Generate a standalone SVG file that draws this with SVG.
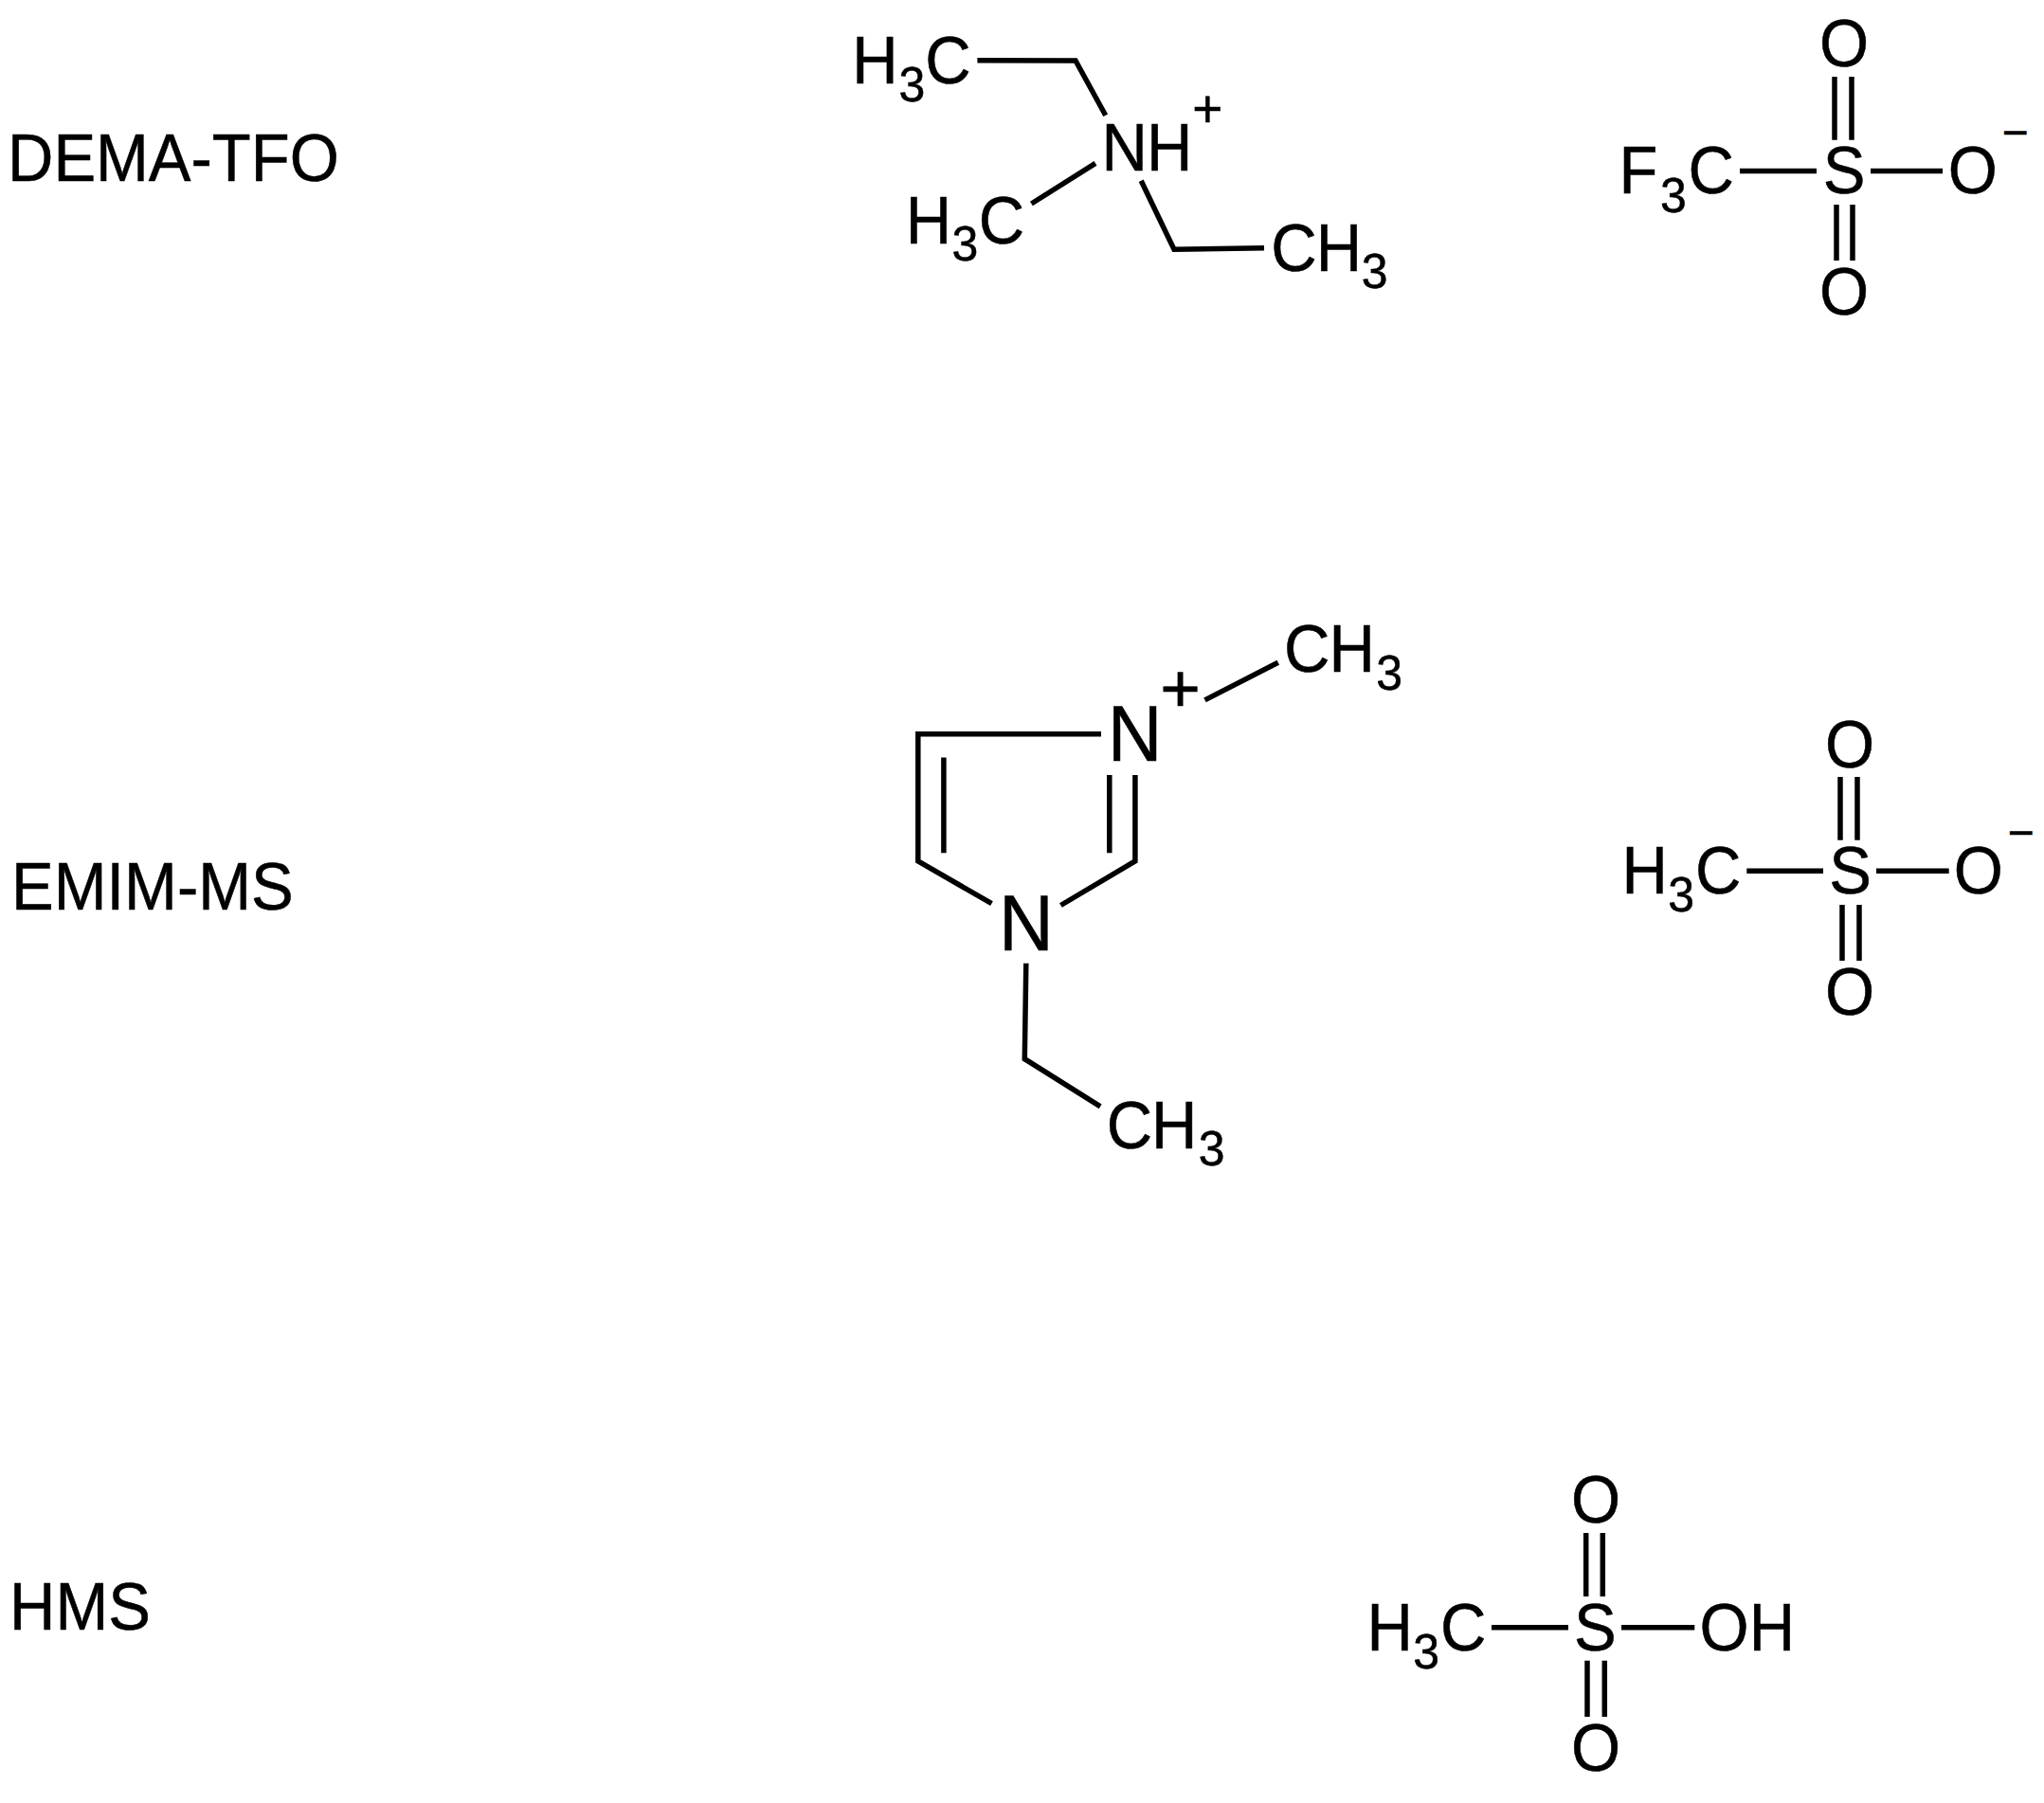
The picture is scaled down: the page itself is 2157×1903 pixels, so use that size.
<svg xmlns="http://www.w3.org/2000/svg" width="2157" height="1903" viewBox="0 0 2157 1903">
<style>
text{font-family:"Liberation Sans",Arial,sans-serif;fill:#000;stroke:#000;stroke-width:.5}
.a{font-size:67px}.s{font-size:50px}.n{font-size:80px}
.p{font-size:55px;text-anchor:middle}.q{font-size:73px;text-anchor:middle}.m{font-size:48px;text-anchor:middle}
#bonds path{fill:none;stroke:#000;stroke-width:5.5;stroke-linejoin:miter}
</style>
<rect width="2157" height="1903" fill="#fff"/>
<g id="bonds">
<path d="M1031.4 63.7L1135 64L1166.7 121.7"/>
<path d="M1156 172.3L1088.4 215"/>
<path d="M1204.2 190.7L1239 263.3L1334 261.7"/>
<path d="M1836 180.5H1917M1974 180.5H2050M1936 81V147.7M1954 81V147.7M1938 216V275M1955 216V275"/>
<path d="M1162 774.8H968.8V908.9L1046.5 953.6M995.9 799.4V900.2M1170.8 817.9V900.2M1197.9 817.9V908.9L1119.4 955.5M1271.5 738.9L1348.8 699.3M1082.8 1016.8L1081.3 1117.7L1161.2 1167.9"/>
<path d="M1843.3 919.3H1924M1980 919.3H2056.7M1942 820V886.7M1960 820V886.7M1944 955V1014M1962 955V1014"/>
<path d="M1574 1717.7H1655M1711 1717.7H1788.3M1673.7 1618V1685M1691.3 1618V1685M1675 1752.7V1812M1693.3 1752.7V1812"/>
</g>
<g id="label-dema"><text class="a" transform="translate(8 190.7) scale(1 1.045)">DEMA-TFO</text></g>
<g id="label-emim"><text class="a" transform="translate(12 960) scale(1 1.045)">EMIM-MS</text></g>
<g id="label-hms"><text class="a" transform="translate(10 1720) scale(1 1.045)">HMS</text></g>
<g id="dema-cation">
<text class="a" transform="translate(899.2 87.7) scale(1 1.045)">H</text>
<text class="s" transform="translate(948.4 106.7) scale(1 1.045)">3</text>
<text class="a" transform="translate(976.2 87.7) scale(1 1.045)">C</text>
<text class="a" transform="translate(1162.4 180) scale(1 1.045)">N</text>
<text class="a" transform="translate(1210 180) scale(1 1.045)">H</text>
<text class="p" x="1274.2" y="134">+</text>
<text class="a" transform="translate(955.7 256.7) scale(1 1.045)">H</text>
<text class="s" transform="translate(1004.5 275.3) scale(1 1.045)">3</text>
<text class="a" transform="translate(1032.8 256.7) scale(1 1.045)">C</text>
<text class="a" transform="translate(1341.2 285.7) scale(1 1.045)">C</text>
<text class="a" transform="translate(1388.7 285.7) scale(1 1.045)">H</text>
<text class="s" transform="translate(1436.7 304) scale(1 1.045)">3</text>
</g>
<g id="tfo-anion">
<text class="a" transform="translate(1920 70) scale(1 1.045)">O</text>
<text class="a" transform="translate(1920 332) scale(1 1.045)">O</text>
<text class="a" transform="translate(1708.5 204.3) scale(1 1.045)">F</text>
<text class="s" transform="translate(1752 224) scale(1 1.045)">3</text>
<text class="a" transform="translate(1781.6 204.3) scale(1 1.045)">C</text>
<text class="a" transform="translate(1923.7 204.3) scale(1 1.045)">S</text>
<text class="a" transform="translate(2055.7 204.3) scale(1 1.045)">O</text>
<text class="m" x="2126.5" y="156">−</text>
</g>
<g id="emim-cation">
<text class="n" transform="translate(1168.8 803.3) scale(1 1.045)">N</text>
<text class="n" transform="translate(1054.1 1002.6) scale(1 1.045)">N</text>
<text class="q" x="1245.6" y="751">+</text>
<text class="a" transform="translate(1355 709.2) scale(1 1.045)">C</text>
<text class="a" transform="translate(1402.6 709.2) scale(1 1.045)">H</text>
<text class="s" transform="translate(1452.2 727.8) scale(1 1.045)">3</text>
<text class="a" transform="translate(1167.8 1211.8) scale(1 1.045)">C</text>
<text class="a" transform="translate(1215 1211.8) scale(1 1.045)">H</text>
<text class="s" transform="translate(1264.7 1230) scale(1 1.045)">3</text>
</g>
<g id="ms-anion">
<text class="a" transform="translate(1926 809.5) scale(1 1.045)">O</text>
<text class="a" transform="translate(1926 1071) scale(1 1.045)">O</text>
<text class="a" transform="translate(1711.4 943.3) scale(1 1.045)">H</text>
<text class="s" transform="translate(1760.3 962.3) scale(1 1.045)">3</text>
<text class="a" transform="translate(1789 943.3) scale(1 1.045)">C</text>
<text class="a" transform="translate(1930.3 943.3) scale(1 1.045)">S</text>
<text class="a" transform="translate(2061.7 943.3) scale(1 1.045)">O</text>
<text class="m" x="2132.5" y="895">−</text>
</g>
<g id="hms-acid">
<text class="a" transform="translate(1658 1606.7) scale(1 1.045)">O</text>
<text class="a" transform="translate(1658 1868.7) scale(1 1.045)">O</text>
<text class="a" transform="translate(1442.4 1741.7) scale(1 1.045)">H</text>
<text class="s" transform="translate(1491.3 1761) scale(1 1.045)">3</text>
<text class="a" transform="translate(1520 1741.7) scale(1 1.045)">C</text>
<text class="a" transform="translate(1661 1741.7) scale(1 1.045)">S</text>
<text class="a" transform="translate(1793.4 1741.7) scale(1 1.045)">O</text>
<text class="a" transform="translate(1845.7 1741.7) scale(1 1.045)">H</text>
</g>
</svg>
